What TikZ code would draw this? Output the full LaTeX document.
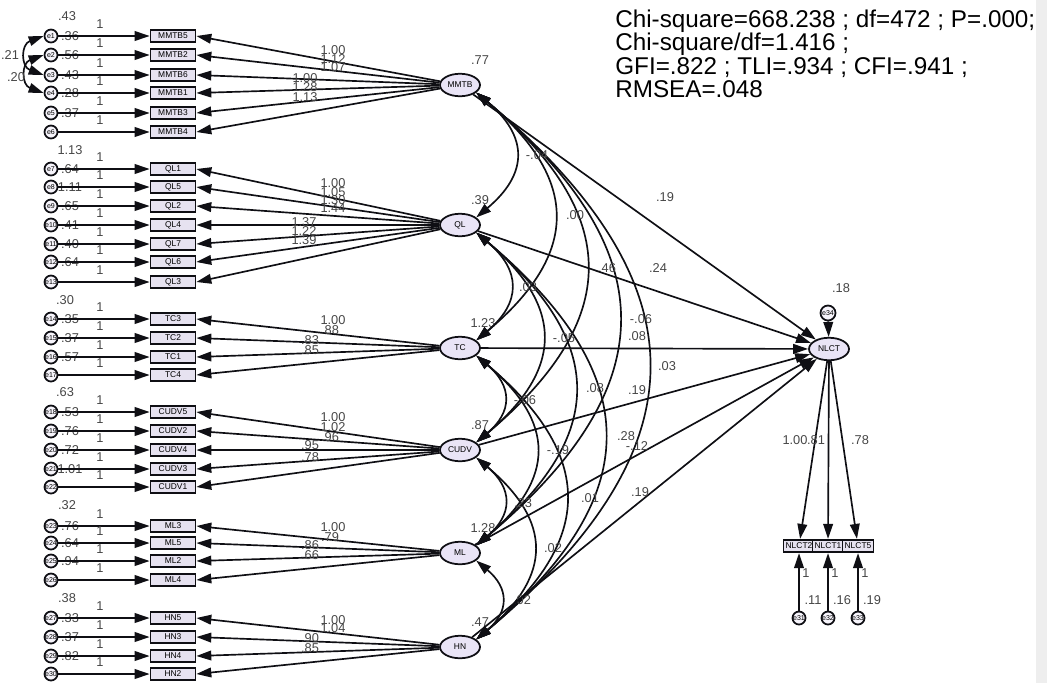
\documentclass[tikz,border=0pt]{standalone}
\usepackage{fontspec}
\setmainfont{Liberation Sans}
\usepackage{tikz}
\usetikzlibrary{shapes.geometric, arrows.meta, positioning}
\definecolor{mylav}{RGB}{233,228,246}
\definecolor{myboxfill}{RGB}{230,226,240}
\definecolor{mydark}{RGB}{15,15,20}
\definecolor{mynum}{RGB}{70,70,70}
\definecolor{mystrip}{RGB}{238,238,238}
\tikzset{
  obsbox/.style={rectangle, draw=mydark, fill=myboxfill,
    minimum width=0.9cm, minimum height=0.25cm, inner sep=0pt,
    font=\fontsize{4.8}{5}\selectfont, line width=1pt},
  latent/.style={ellipse, draw=mydark, fill=mylav,
    minimum width=0.8cm, minimum height=0.45cm, inner sep=0pt,
    font=\fontsize{4.8}{5}\selectfont, line width=1pt},
  errc/.style={circle, draw=mydark, fill=mylav!40,
    minimum size=0.26cm, inner sep=0pt,
    font=\fontsize{4}{4}\selectfont, line width=1pt},
  num/.style={font=\fontsize{7.3}{8}\selectfont, text=mynum, inner sep=0pt},
  fitline/.style={anchor=base west, font=\fontsize{13.8}{15}\selectfont, inner sep=0pt},
  arrow/.style={-{Triangle[length=8.5pt,width=5.5pt]}, line width=0.95pt, color=mydark},
  dblarrow/.style={{Triangle[length=8.5pt,width=5.5pt]}-{Triangle[length=8.5pt,width=5.5pt]},
    line width=0.95pt, color=mydark}
}

\begin{document}
\begin{tikzpicture}[x=0.02cm, y=-0.02cm]
  \useasboundingbox (0,0) rectangle (1047,683);
  \fill[mystrip] (1036,0) rectangle (1047,683);
  % latent factors
  \foreach \lat/\y in {MMTB/85, QL/225, TC/348, CUDV/450, ML/553, HN/647}
    \node[latent] (\lat) at (460,\y) {\lat};
  \node[latent] (NLCT) at (829,349) {NLCT};
  % indicators, error terms and loadings
  \foreach \ind/\y/\e/\v/\lat in {MMTB5/36/e1/.36/MMTB, MMTB2/55/e2/.56/MMTB, MMTB6/75/e3/.43/MMTB,
      MMTB1/93/e4/.28/MMTB, MMTB3/113/e5/.37/MMTB, MMTB4/132/e6//MMTB,
      QL1/169/e7/.64/QL, QL5/187/e8/1.11/QL, QL2/206/e9/.65/QL, QL4/225/e10/.41/QL,
      QL7/244/e11/.40/QL, QL6/262/e12/.64/QL, QL3/282/e13//QL,
      TC3/319/e14/.35/TC, TC2/338/e15/.37/TC, TC1/357/e16/.57/TC, TC4/375/e17//TC,
      CUDV5/412/e18/.53/CUDV, CUDV2/431/e19/.76/CUDV, CUDV4/450/e20/.72/CUDV,
      CUDV3/469/e21/1.01/CUDV, CUDV1/487/e22//CUDV,
      ML3/526/e23/.76/ML, ML5/543/e24/.64/ML, ML2/561/e25/.94/ML, ML4/580/e26//ML,
      HN5/618/e27/.33/HN, HN3/637/e28/.37/HN, HN4/656/e29/.82/HN, HN2/674/e30//HN} {
    \node[obsbox] (\ind) at (173,\y) {\ind};
    \node[errc] (\e) at (51,\y) {\e};
    \node[num] (v\e) at (70,\y) {\v};
    \node[num] (one\e) at (100,\y-12) {1};
    \draw[arrow] (\e) -- (\ind);
    \draw[arrow] (\lat) -- (\ind.east);
  }
  \foreach \x/\y/\lab [count=\i] in {67/16/.43, 70/150/1.13, 65/300/.30, 65/392/.63, 67/505/.32, 67/598/.38}
    \node[num] (gv\i) at (\x,\y) {\lab};
  % correlated errors
  \draw[dblarrow] (e1.west) to[out=200,in=160,looseness=1.6] (e3.west);
  \draw[dblarrow] (e2.west) to[out=200,in=160,looseness=1.6] (e4.west);
  \node[num] (c13) at (10,55) {.21};
  \node[num] (c24) at (16,77) {.20};
  % loading estimates
  \foreach \x/\y/\lab [count=\i] in {333/50/1.00, 333/59/1.12, 333/67/1.07, 305/78/1.00, 305/87/1.28, 305/97/1.13,
      333/183/1.00, 333/192/1.05, 333/200/1.30, 333/208/1.44, 304/222/1.37, 304/231/1.22, 304/240/1.39,
      333/320/1.00, 330/330/.88, 310/340/.83, 310/350/.85,
      333/417/1.00, 333/427/1.02, 330/437/.96, 310/445/.95, 310/457/.78,
      333/527/1.00, 330/537/.79, 310/545/.86, 310/555/.66,
      333/620/1.00, 333/628/1.04, 310/638/.90, 310/648/.85}
    \node[num] (ld\i) at (\x,\y) {\lab};
  \foreach \x/\y/\lab [count=\i] in {480/60/.77, 480/200/.39, 483/323/1.23, 480/425/.87, 483/528/1.28, 480/622/.47}
    \node[num] (lv\i) at (\x,\y) {\lab};
  % covariances between factors
  \foreach \a/\b in {MMTB/QL, QL/TC, TC/CUDV, CUDV/ML, ML/HN, MMTB/TC, QL/CUDV, TC/ML, CUDV/HN,
      MMTB/CUDV, QL/ML, TC/HN, MMTB/ML, QL/HN, MMTB/HN}
    \draw[dblarrow] (\a.-25) to[out=-40,in=40,looseness=1.4] (\b.25);
  \foreach \x/\y/\lab [count=\i] in {537/155/-.04, 528/287/.03, 525/400/-.06, 523/503/.23, 522/600/.02,
      575/215/.00, 564/338/-.05, 558/450/-.19, 553/548/.02,
      607/268/.46, 595/388/.08, 590/498/.01, 641/319/-.06, 626/436/.28, 667/366/.03}
    \node[num] (cv\i) at (\x,\y) {\lab};
  % structural paths
  \foreach \lat in {MMTB, QL, TC, CUDV, ML, HN}
    \draw[arrow] (\lat) -- (NLCT);
  \foreach \x/\y/\lab [count=\i] in {665/197/.19, 658/268/.24, 637/336/.08, 637/390/.19, 637/446/-.12, 640/492/.19}
    \node[num] (pt\i) at (\x,\y) {\lab};
  % outcome factor
  \node[errc, minimum size=0.3cm] (e34) at (828,313) {e34};
  \node[num] (v34) at (841,288) {.18};
  \draw[arrow] (e34) -- (NLCT);
  \foreach \ind/\x/\e/\v in {NLCT2/799/e31/.11, NLCT1/828/e32/.16, NLCT5/858/e33/.19} {
    \node[obsbox, minimum width=0.62cm] (\ind) at (\x,546) {\ind};
    \node[errc] (\e) at (\x,618) {\e};
    \node[num] (v\e) at (\x+14,600) {\v};
    \node[num] (one\e) at (\x+7,573) {1};
    \draw[arrow] (\e) -- (\ind);
    \draw[arrow] (NLCT) -- (\ind);
  }
  \node[num] (ln1) at (795,440) {1.00};
  \node[num] (ln2) at (816,440) {.81};
  \node[num] (ln3) at (860,440) {.78};
  % fit statistics
  \node[fitline] (fit1) at (615,27) {Chi-square=668.238 ; df=472 ; P=.000;};
  \node[fitline] (fit2) at (615,50) {Chi-square/df=1.416 ;};
  \node[fitline] (fit3) at (615,74) {GFI=.822 ; TLI=.934 ; CFI=.941 ;};
  \node[fitline] (fit4) at (615,97) {RMSEA=.048};
\end{tikzpicture}
\end{document}
